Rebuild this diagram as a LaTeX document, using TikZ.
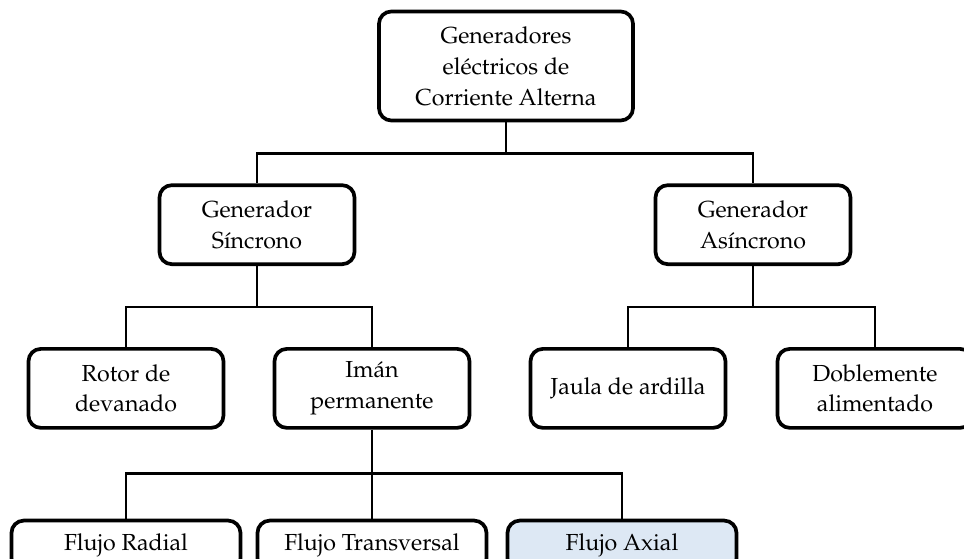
\documentclass[tikz,border=0pt]{standalone}
\usepackage[T1]{fontenc}
\usepackage{mathpazo}
\usepackage{xcolor}
\usetikzlibrary{positioning}
\definecolor{axialfill}{RGB}{221,232,244}

\begin{document}
\begin{tikzpicture}[
        node distance=1.5cm,
        box/.style={rectangle, draw=black, fill=white, line width=2.1pt, rounded corners=7pt, align=center, inner sep=2pt, font=\fontsize{13.2}{17.6}\selectfont},
        genbox/.style={box, minimum width=3.9cm, minimum height=1.58cm},
        leafbox/.style={box, minimum width=4.58cm, minimum height=1.0cm},
        link/.style={line width=1.6pt}
    ]
        \useasboundingbox (-10.12,1.32) rectangle (9.16,-9.86);

        % Root
        \node[box, minimum width=5.08cm, minimum height=2.18cm] (root) at (0,0) {Generadores\\eléctricos de\\Corriente Alterna};

        % Generators
        \node[genbox, below=1.22cm of root, xshift=-4.98cm] (sinc) {Generador\\Síncrono};
        \node[genbox, below=1.22cm of root, xshift=4.94cm] (asinc) {Generador\\Asíncrono};

        % Types
        \node[genbox, below=1.62cm of sinc, xshift=-2.62cm] (rotor) {Rotor de\\devanado};
        \node[genbox, below=1.62cm of sinc, xshift=2.30cm] (iman) {Imán\\permanente};
        \node[genbox, below=1.62cm of asinc, xshift=-2.5cm] (jaula) {Jaula de ardilla};
        \node[genbox, below=1.62cm of asinc, xshift=2.44cm] (doble) {Doblemente\\alimentado};

        % Flux
        \node[leafbox, below=1.78cm of iman, xshift=-4.92cm] (radial) {Flujo Radial};
        \node[leafbox, below=1.78cm of iman] (transv) {Flujo Transversal};
        \node[leafbox, below=1.78cm of iman, xshift=5.0cm, fill=axialfill] (axial) {Flujo Axial};

        % Connections
        \draw[link] (root.south) -- ++(0,-0.62) coordinate (j0);
        \draw[link] (j0) -| (sinc.north);
        \draw[link] (j0) -| (asinc.north);
        \draw[link] (sinc.south) -- ++(0,-0.82) coordinate (j1);
        \draw[link] (j1) -| (rotor.north);
        \draw[link] (j1) -| (iman.north);
        \draw[link] (asinc.south) -- ++(0,-0.82) coordinate (j2);
        \draw[link] (j2) -| (jaula.north);
        \draw[link] (j2) -| (doble.north);
        \draw[link] (iman.south) -- ++(0,-0.88) coordinate (j3);
        \draw[link] (j3) -| (radial.north);
        \draw[link] (j3) -- (transv.north);
        \draw[link] (j3) -| (axial.north);
    \end{tikzpicture}
\end{document}
